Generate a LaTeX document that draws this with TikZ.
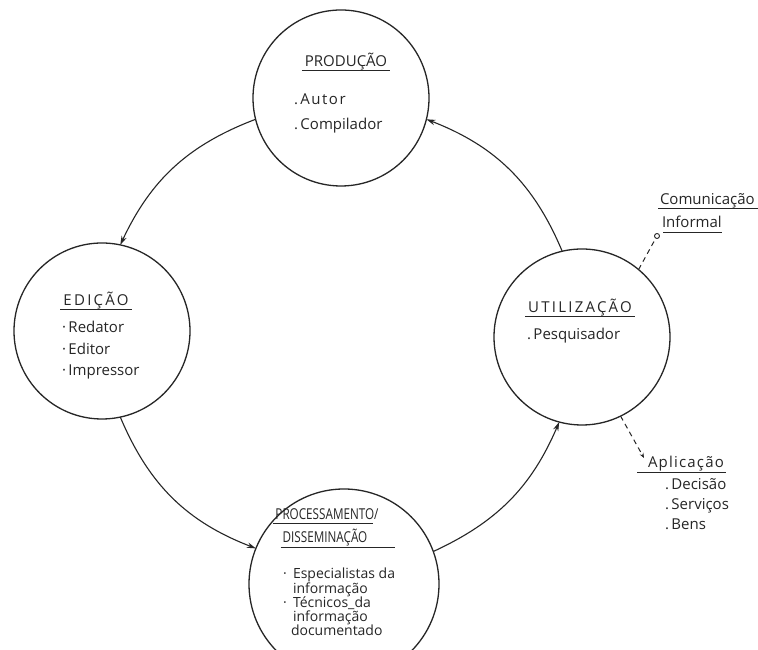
\documentclass[tikz,border=0pt]{standalone}
\usepackage{fontspec}
\setmainfont{Open Sans}
\usepackage{graphicx}
\usetikzlibrary{arrows.meta}
\definecolor{ink}{HTML}{262626}
\newcommand\lsp[2]{{\addfontfeature{LetterSpace=#1}#2}}
\begin{document}
\begin{tikzpicture}[x=1pt,y=1pt,
  stage/.style={circle,draw=ink,line width=1.3pt,inner sep=0pt,outer sep=0pt},
  txt/.style={inner sep=0pt,outer sep=0pt,text=ink,font=\fontsize{15}{17}\selectfont},
  title/.style={txt,anchor=base},
  item/.style={txt,anchor=base west},
  small/.style={font=\fontsize{14}{15}\selectfont},
  flow/.style={draw=ink,line width=1.1pt,-{Stealth[length=9pt,width=5.5pt]}},
  link/.style={draw=ink,line width=1pt,dash pattern=on 5pt off 4pt},
  ul/.style={draw=ink,line width=1pt}]
\path[clip] (0,0) rectangle (758,650);
\fill[white] (0,0) rectangle (758,650);

% stages
\node[stage,minimum size=176pt] (prod) at (341,552) {};
\node[stage,minimum size=176pt] (edit) at (102,319) {};
\node[stage,minimum size=190pt] (proc) at (344,66) {};
\node[stage,minimum size=176pt] (util) at (582,313) {};

% PRODUCAO
\node[title] (tprod) at (346,583) {PRODUÇÃO};
\draw[ul] ([shift={(-3,-4)}]tprod.base west) -- ([shift={(3,-4)}]tprod.base east);
\node[item] (autor) at (294,545) {.\,\lsp{10}{Autor}};
\node[item] (comp) at (294,520) {.\,Compilador};

% EDICAO
\node[title] (tedit) at (96,344) {\lsp{15}{EDIÇÃO}};
\draw[ul] ([shift={(-3,-4)}]tedit.base west) -- ([shift={(3,-4)}]tedit.base east);
\node[item] (red) at (62,317) {·\,Redator};
\node[item] (edt) at (62,295) {·\,Editor};
\node[item] (imp) at (62,274) {·\,Impressor};

% UTILIZACAO
\node[title] (tutil) at (580,337) {\lsp{15}{UTILIZAÇÃO}};
\draw[ul] ([shift={(-3,-4)}]tutil.base west) -- ([shift={(3,-4)}]tutil.base east);
\node[item] (pesq) at (527,310) {.\,Pesquisador};

% PROCESSAMENTO / DISSEMINACAO
\node[title] (tproc) at (327,130) {\scalebox{0.78}[1]{PROCESSAMENTO/}};
\draw[ul] ([shift={(-2,-4)}]tproc.base west) -- ([shift={(-6,-4)}]tproc.base east);
\node[title] (tdiss) at (325,107) {\scalebox{0.78}[1]{DISSEMINAÇÃO}};
\draw[ul] ([shift={(-2,-5)}]tdiss.base west) -- ([shift={(28,-5)}]tdiss.base east);
\node[item,small] (b1) at (283,71) {·};
\node[item,small] (esp) at (293,71) {Especialistas da};
\node[item,small] (inf1) at (293,56) {informação};
\node[item,small] (b2) at (283,42) {·};
\node[item,small] (tec) at (293,42) {Técnicos\_da};
\node[item,small] (inf2) at (293,28) {informação};
\node[item,small] (doc) at (291,14) {documentado};

% Comunicacao informal
\node[item] (com) at (660,445) {Comunicação};
\draw[ul] ([shift={(-2,-4)}]com.base west) -- ([shift={(4,-4)}]com.base east);
\node[item] (inf) at (662,422) {Informal};
\draw[ul] ([shift={(1,-5)}]inf.base west) -- ([shift={(0,-5)}]inf.base east);
\node[draw=ink,circle,minimum size=5pt,inner sep=0pt,line width=0.9pt] (ci) at (657,414) {};
\draw[link] (util.50) -- (ci);

% Aplicacao
\node[item] (apl) at (648,182) {\lsp{8}{Aplicação}};
\draw[ul] ([shift={(-11,-5)}]apl.base west) -- ([shift={(2,-5)}]apl.base east);
\coordinate (ap) at (644,192);
\draw[link,-{Stealth[length=5pt,width=4pt]}] (util.296) -- (ap);
\node[item] (dec) at (665,160) {.\,Decisão};
\node[item] (ser) at (665,140) {.\,Serviços};
\node[item] (ben) at (665,120) {.\,Bens};

% cycle
\draw[flow] (prod.194) to[bend right=22] (edit.78);
\draw[flow] (edit.282) to[bend right=23] (proc.158);
\draw[flow] (proc.20) to[bend right=21] (util.255);
\draw[flow] (util.103) to[bend right=23] (prod.346);
\end{tikzpicture}
\end{document}
